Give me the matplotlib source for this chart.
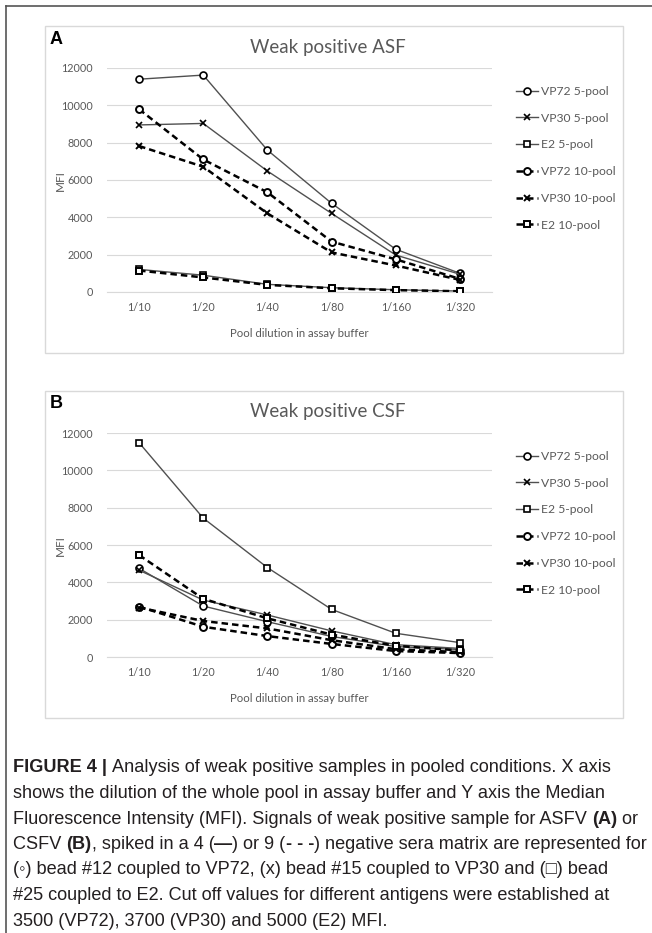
import matplotlib
matplotlib.use("Agg")
import matplotlib.pyplot as plt
from matplotlib.lines import Line2D
from matplotlib.patches import Rectangle

# ---- data ----
dilutions = ["1/10", "1/20", "1/40", "1/80", "1/160", "1/320"]
series_names = ["VP72 5-pool", "VP30 5-pool", "E2 5-pool",
                "VP72 10-pool", "VP30 10-pool", "E2 10-pool"]

asf_vp72_5 = [11400, 11620, 7600, 4750, 2290, 1000]
asf_vp30_5 = [8950, 9030, 6480, 4210, 1980, 950]
asf_e2_5 = [1210, 900, 410, 230, 120, 50]
asf_vp72_10 = [9790, 7100, 5340, 2700, 1750, 700]
asf_vp30_10 = [7820, 6710, 4210, 2120, 1420, 650]
asf_e2_10 = [1150, 780, 380, 200, 100, 40]

csf_vp72_5 = [4750, 2730, 1890, 1100, 560, 400]
csf_vp30_5 = [4650, 3050, 2250, 1400, 660, 460]
csf_e2_5 = [11480, 7440, 4790, 2550, 1270, 770]
csf_vp72_10 = [2700, 1620, 1120, 700, 320, 210]
csf_vp30_10 = [2650, 1930, 1530, 900, 420, 260]
csf_e2_10 = [5460, 3120, 2070, 1200, 600, 350]

panel_letters = ["A", "B"]
panel_titles = ["Weak positive ASF", "Weak positive CSF"]
y_label = "MFI"
x_label = "Pool dilution in assay buffer"
y_ticks = [0, 2000, 4000, 6000, 8000, 10000, 12000]

caption_lines = [
    [("FIGURE 4 | ", True), ("Analysis of weak positive samples in pooled conditions. X axis", False)],
    [("shows the dilution of the whole pool in assay buffer and Y axis the Median", False)],
    [("Fluorescence Intensity (MFI). Signals of weak positive sample for ASFV ", False), ("(A)", True), (" or", False)],
    [("CSFV ", False), ("(B)", True), (", spiked in a 4 (", False), ("\u2014", True), (") or 9 (", False),
     ("- - -", True), (") negative sera matrix are represented for", False)],
    [("(\u25e6) bead #12 coupled to VP72, (x) bead #15 coupled to VP30 and (\u25a1) bead", False)],
    [("#25 coupled to E2. Cut off values for different antigens were established at", False)],
    [("3500 (VP72), 3700 (VP30) and 5000 (E2) MFI.", False)],
]

panels = [
    [asf_vp72_5, asf_vp30_5, asf_e2_5, asf_vp72_10, asf_vp30_10, asf_e2_10],
    [csf_vp72_5, csf_vp30_5, csf_e2_5, csf_vp72_10, csf_vp30_10, csf_e2_10],
]

# ---- styling ----
W, H = 652, 933
chart_font = ["Lato", "DejaVu Sans"]
cap_font = ["Liberation Sans Narrow", "Liberation Sans", "DejaVu Sans"]
gray_txt = "#595959"
grid_col = "#d9d9d9"
markers = ["o", "x", "s", "o", "x", "s"]
solid = dict(color="#505050", lw=1.0, ls="-")
dashed = dict(color="black", lw=1.8, ls=(0, (2.6, 1.6)))
styles = [solid, solid, solid, dashed, dashed, dashed]


def fx(px):
    return px / W


def fy(px):
    return 1 - px / H


fig = plt.figure(figsize=(W / 100, H / 100), dpi=100)

# outer frame (top and left)
fig.add_artist(Line2D([fx(6), 1], [fy(6), fy(6)], color="#555555", lw=1.2))
fig.add_artist(Line2D([fx(6), fx(6)], [fy(6), 0], color="#555555", lw=1.2))

offsets = [0, 365]
for p in range(2):
    off = offsets[p]
    # panel box
    fig.add_artist(Rectangle((fx(45), fy(353 + off)), fx(623) - fx(45), fy(26 + off) - fy(353 + off),
                             transform=fig.transFigure, fill=False, ec=grid_col, lw=1.0))
    fig.text(fx(50), fy(39 + off), panel_letters[p], fontsize=13, fontweight="bold",
             family=["Liberation Sans", "DejaVu Sans"], va="center", ha="left")
    fig.text(fx(328), fy(47 + off), panel_titles[p], fontsize=13.5, color=gray_txt,
             family=chart_font, va="center", ha="center")
    fig.text(fx(60), fy(181 + off), y_label, fontsize=8.5, color=gray_txt, family=chart_font,
             rotation=90, va="center", ha="center")

    ax = fig.add_axes([fx(107), fy(292 + off), fx(492) - fx(107), fy(68 + off) - fy(292 + off)])
    xs = list(range(len(dilutions)))
    for i, vals in enumerate(panels[p]):
        st = styles[i]
        ax.plot(xs, vals, color=st["color"], lw=st["lw"], ls=st["ls"], marker=markers[i],
                ms=5, mfc="white", mec="black", mew=1.4 if i >= 3 else 1.2,
                label=series_names[i], zorder=3)
    ax.set_xlim(-0.5, len(dilutions) - 0.5)
    ax.set_ylim(0, 12000)
    ax.set_yticks(y_ticks)
    ax.set_yticklabels([str(v) for v in y_ticks], fontsize=7.8, color=gray_txt, family=chart_font)
    ax.set_xticks(xs)
    ax.set_xticklabels(dilutions, fontsize=7.8, color=gray_txt, family=chart_font)
    ax.tick_params(length=0, pad=7)
    ax.tick_params(axis="y", pad=10)
    ax.grid(axis="y", color=grid_col, lw=0.8)
    ax.set_axisbelow(True)
    for s in ["top", "right", "left"]:
        ax.spines[s].set_visible(False)
    ax.spines["bottom"].set_color(grid_col)
    ax.set_xlabel(x_label, fontsize=8.2, color=gray_txt, family=chart_font, labelpad=11)

    leg = ax.legend(loc="upper left", bbox_to_anchor=(fx(516), fy(86 + off)),
                    bbox_transform=fig.transFigure, frameon=False, prop={"family": chart_font, "size": 8.7},
                    handlelength=1.8, handletextpad=0.3, labelspacing=1.3, borderpad=0, borderaxespad=0)
    for t in leg.get_texts():
        t.set_color(gray_txt)

# caption
renderer = fig.canvas.get_renderer()
base = 13.0
probe = fig.text(0, 0, "".join(s for s, _ in caption_lines[3]), fontsize=base, family=cap_font)
wid = probe.get_window_extent(renderer).width
probe.remove()
cap_size = min(base * 633 / wid, 14.5)

for k, line in enumerate(caption_lines):
    y = 768 + k * 25.5
    x = fx(13)
    for txt, bold in line:
        t = fig.text(x, fy(y), txt, fontsize=cap_size, fontweight="bold" if bold else "normal",
                     family=cap_font, va="center", ha="left", color="#231f20")
        x += t.get_window_extent(renderer).width / W

fig.savefig("out.png", dpi=100)
